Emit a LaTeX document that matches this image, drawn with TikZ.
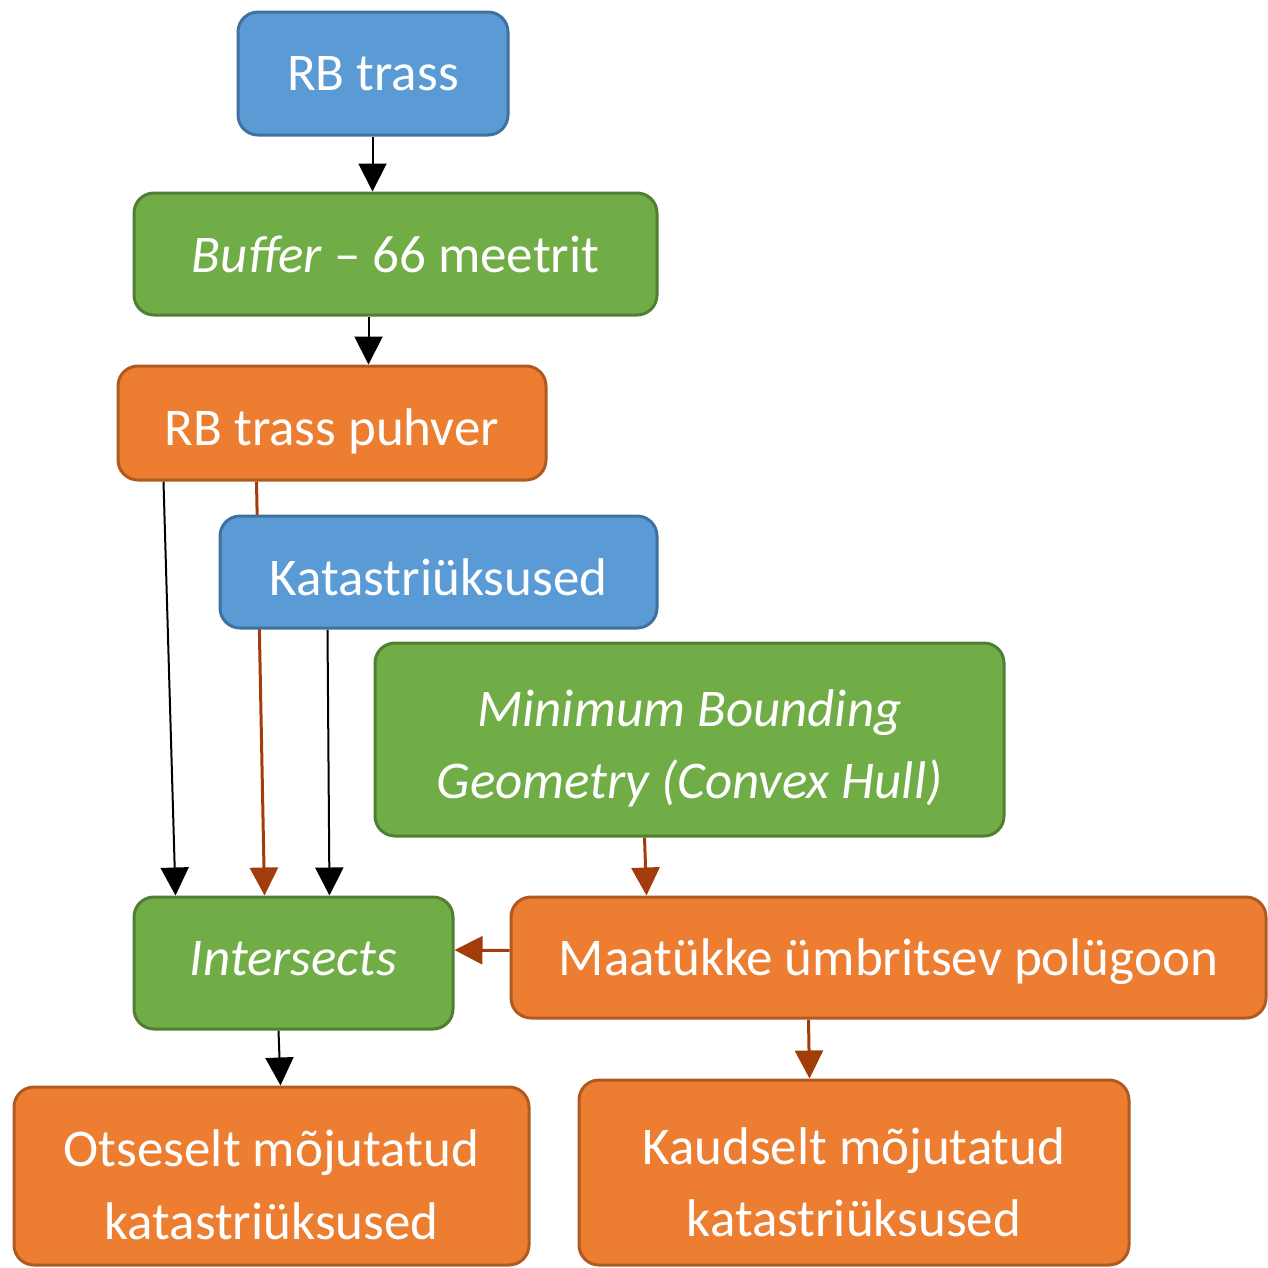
\documentclass[tikz,border=0pt]{standalone}
\usepackage{fontspec}
\setmainfont{Carlito}
\usetikzlibrary{arrows.meta,calc,backgrounds}
\definecolor{bfill}{HTML}{5B9BD5}
\definecolor{bline}{HTML}{41719C}
\definecolor{gfill}{HTML}{70AD47}
\definecolor{gline}{HTML}{507E32}
\definecolor{ofill}{HTML}{ED7D31}
\definecolor{oline}{HTML}{AE5A21}
\definecolor{brown}{HTML}{A23D0B}
\newcommand\lowr[2]{\raisebox{-#1}[\height][\depth]{#2}}
\begin{document}
\begin{tikzpicture}[x=1pt,y=-1pt,
  box/.style={rectangle, rounded corners=20pt, line width=3pt, inner sep=0pt,
    text=white, align=center, font=\fontsize{53}{72.5}\selectfont},
  bluebox/.style={box, fill=bfill, draw=bline},
  greenbox/.style={box, fill=gfill, draw=gline},
  orangebox/.style={box, fill=ofill, draw=oline},
  blk/.style={draw=black, line width=2pt, -{Triangle[width=28pt,length=28pt]}},
  brn/.style={draw=brown, line width=3pt, -{Triangle[width=28pt,length=28pt]}}]
\useasboundingbox (0,0) rectangle (1268,1267);
\node[bluebox, minimum width=270pt, minimum height=123pt] (rb) at (373,73.5) {RB trass};
\node[greenbox, minimum width=523pt, minimum height=122pt] (buf) at (395.5,254) {\textit{Buffer} – 66 meetrit};
\node[orangebox, minimum width=428pt, minimum height=114pt] (puh) at (332,423) {\lowr{8pt}{RB trass puhver}};
\node[bluebox, minimum width=437pt, minimum height=112pt] (kat) at (438.5,572) {\lowr{5pt}{Katastriüksused}};
\node[greenbox, minimum width=629pt, minimum height=193pt] (mbg) at (689.5,739.5) {\lowr{9pt}{\textit{Minimum Bounding}}\\\lowr{9pt}{\textit{Geometry (Convex Hull)}}};
\node[greenbox, minimum width=319pt, minimum height=132pt] (int) at (293.5,963) {\lowr{-4pt}{\textit{Intersects}}};
\node[orangebox, minimum width=755pt, minimum height=121pt] (maa) at (888.5,957.5) {\lowr{4pt}{Maatükke ümbritsev polügoon}};
\node[orangebox, minimum width=515pt, minimum height=178pt] (ots) at (271.5,1176) {\lowr{9pt}{Otseselt mõjutatud}\\\lowr{9pt}{katastriüksused}};
\node[orangebox, minimum width=550pt, minimum height=185pt] (kau) at (854,1172.5) {\lowr{10pt}{Kaudselt mõjutatud}\\\lowr{10pt}{katastriüksused}};
\begin{scope}[on background layer]
\draw[blk] ($(rb.south west)+(136,0)$) -- ($(buf.north west)+(240,0)$);
\draw[blk] ($(buf.south west)+(236,0)$) -- ($(puh.north west)+(252,0)$);
\draw[blk] ($(puh.south west)+(47,0)$) -- ($(int.north west)+(43,0)$);
\draw[brn] ($(puh.south west)+(140,0)$) -- ($(int.north west)+(132,0)$);
\draw[blk] ($(kat.south west)+(109,0)$) -- ($(int.north west)+(197,0)$);
\draw[brn] ($(mbg.south west)+(271,0)$) -- ($(maa.north west)+(137,0)$);
\draw[brn] ($(maa.west)+(0,-7)$) -- ($(int.east)+(0,-13)$);
\draw[blk] ($(int.south west)+(146,0)$) -- ($(ots.north west)+(268,0)$);
\draw[brn] ($(maa.south west)+(299,0)$) -- ($(kau.north west)+(232,0)$);
\end{scope}
\end{tikzpicture}
\end{document}
